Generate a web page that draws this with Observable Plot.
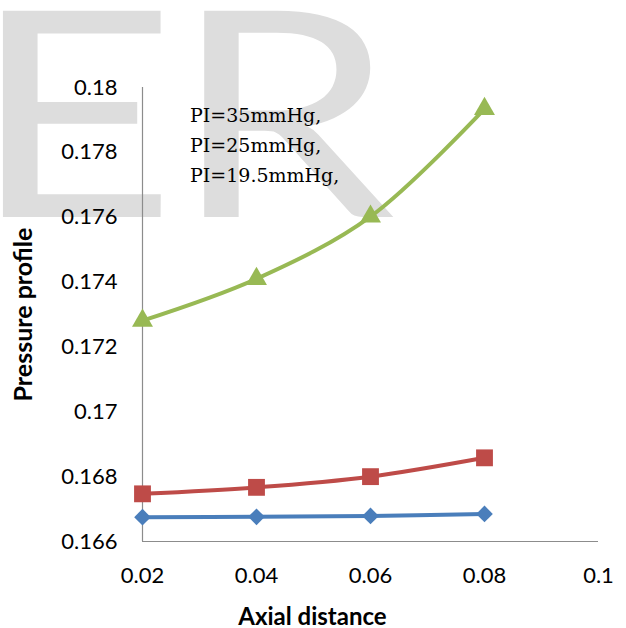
<!DOCTYPE html>
<html>
<head>
<meta charset="utf-8">
<script src="https://cdn.jsdelivr.net/npm/d3@7"></script>
<script src="https://cdn.jsdelivr.net/npm/@observablehq/plot@0.6"></script>
<style>
  html, body { margin: 0; padding: 0; background: #fff; }
  #wrap { position: relative; width: 626px; height: 628px; overflow: hidden; }
  #wm { position: absolute; left: 0; top: 0; }
  #chart { position: absolute; left: 0; top: 0; }
  #legend { position: absolute; left: 190px; top: 100px; font-family: "DejaVu Serif", serif; font-size: 19px; line-height: 30px; color: #000; }
</style>
</head>
<body>
<div id="wrap">
  <svg id="wm" width="626" height="628"><text x="-24" y="217" transform="scale(1.24,1)" letter-spacing="-4" font-family="Lato, sans-serif" font-size="288" fill="#dddddd">ER</text></svg>
  <div id="chart"></div>
  <div id="legend"></div>
</div>
<script>
const xValues = [0.02, 0.04, 0.06, 0.08];
const seriesNames = ["PI=35mmHg,", "PI=25mmHg,", "PI=19.5mmHg,"];
const blueValues = [0.16675, 0.16676, 0.16679, 0.16685];
const redValues = [0.16747, 0.16767, 0.1680, 0.16858];
const greenValues = [0.17281, 0.1741, 0.17602, 0.17934];
const xTicks = [0.02, 0.04, 0.06, 0.08, 0.1];
const yTicks = [0.166, 0.168, 0.17, 0.172, 0.174, 0.176, 0.178, 0.18];

const series = [
  {name: "blue", values: blueValues, color: "#4a7ebb", symbol: "diamond2", r: 7.5},
  {name: "red", values: redValues, color: "#be4b48", symbol: "square", r: 9.5},
  {name: "green", values: greenValues, color: "#98b954", symbol: "triangle2", r: 10}
];
const rows = series.flatMap(s => s.values.map((v, i) => ({x: xValues[i], y: v, s: s.name})));

const fmt = d => String(+d.toFixed(3));
const marks = [
  Plot.ruleX([0.02], {stroke: "#8c8c8c", strokeWidth: 1.2}),
  Plot.ruleY([0.166], {stroke: "#8c8c8c", strokeWidth: 1.2}),
  Plot.axisY(yTicks, {tickSize: 0, tickPadding: 25, tickFormat: fmt, fontSize: 22, label: null}),
  Plot.axisX(xTicks, {tickSize: 0, tickPadding: 26, tickFormat: fmt, fontSize: 22, label: null}),
  Plot.text(["Axial distance"], {frameAnchor: "bottom", lineAnchor: "bottom", dy: 83, dx: -58, fontSize: 24, fontWeight: "bold"}),
  Plot.text(["Pressure profile"], {frameAnchor: "left", textAnchor: "middle", lineAnchor: "middle", rotate: -90, dx: -119, fontSize: 25, fontWeight: "bold"})
];
for (const s of series) {
  const d = rows.filter(r => r.s === s.name);
  marks.push(Plot.line(d, {x: "x", y: "y", stroke: s.color, strokeWidth: 4, curve: "catmull-rom"}));
  marks.push(Plot.dot(d, {x: "x", y: "y", fill: s.color, stroke: "none", symbol: s.symbol, r: s.r}));
}

const chart = Plot.plot({
  width: 626,
  height: 628,
  marginLeft: 142,
  marginRight: 28,
  marginTop: 87,
  marginBottom: 87,
  style: {background: "transparent", fontFamily: "Lato, sans-serif", color: "#000", overflow: "visible"},
  x: {domain: [0.02, 0.1]},
  y: {domain: [0.166, 0.18]},
  marks
});
document.getElementById("chart").appendChild(chart);
document.getElementById("legend").innerHTML = seriesNames.map(n => `<div>${n}</div>`).join("");
</script>
</body>
</html>
